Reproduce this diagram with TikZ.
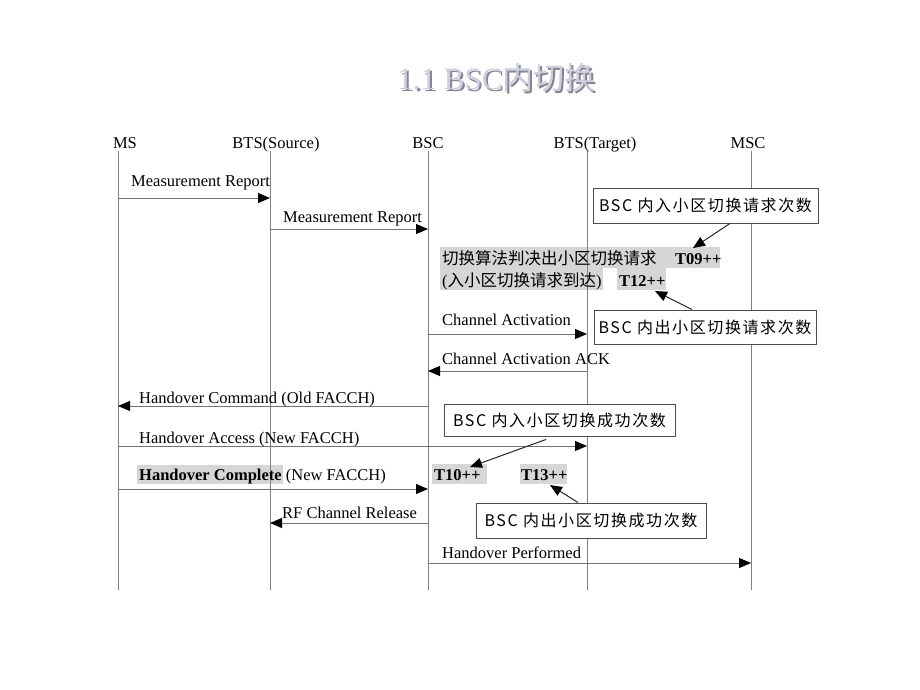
\documentclass[tikz,border=0pt]{standalone}
\usepackage{fontspec}
\setmainfont{Liberation Serif}
\newfontfamily\cjk{Noto Sans CJK SC}
\newfontfamily\cjkbox[LetterSpace=10]{Noto Sans CJK SC}
\usetikzlibrary{arrows.meta}
\definecolor{hlgray}{HTML}{D6D6D6}
\definecolor{titlefill}{HTML}{CCCEE0}
\definecolor{titleshade}{HTML}{85858F}
\begin{document}
\begin{tikzpicture}[x=1pt,y=-1pt,
  lbl/.style={font=\fontsize{16.5}{18}\selectfont,inner sep=0pt,anchor=base west},
  head/.style={font=\fontsize{16.5}{18}\selectfont,inner sep=0pt,anchor=base},
  life/.style={draw=black!50,line width=0.9pt},
  msg/.style={draw=black!55,line width=0.9pt,-{Triangle[length=12pt,width=10pt,color=black]}},
  note/.style={draw=black!70,fill=white,line width=0.9pt,font=\cjkbox\fontsize{16}{18}\selectfont,inner sep=0pt},
  callout/.style={draw=black!85,line width=1pt,-{Triangle[length=12pt,width=10pt,color=black]}},
  hl/.style={fill=hlgray},
  ttl/.style={font=\fontsize{31}{34}\selectfont,inner sep=0pt}
]
\useasboundingbox[fill=white] (0,0) rectangle (920,690);

% title
\node[ttl,text=titleshade] (titleS) at (498.3,79.3) {1.1 BSC{\cjk 内切换}};
\node[ttl,text=titlefill] (title) at (496.5,77.5) {1.1 BSC{\cjk 内切换}};

% highlights
\fill[hl] (440,247) rectangle (720,268);
\fill[hl] (440,268) rectangle (603,290);
\fill[hl] (617,268) rectangle (666,290);
\fill[hl] (432,464) rectangle (487,484);
\fill[hl] (520,464) rectangle (567,484);
\fill[hl] (137,465) rectangle (283,484);

% headers
\node[head] (hMS)  at (125,148) {MS};
\node[head] (hBTSS) at (276,148) {BTS(Source)};
\node[head] (hBSC) at (428,148) {BSC};
\node[head] (hBTST) at (595,148) {BTS(Target)};
\node[head] (hMSC) at (748,148) {MSC};

% lifelines
\foreach \n/\x in {ms/118,btss/270,bsc/428,btst/587,msc/751}{
  \coordinate (\n T) at (\x,151);
  \coordinate (\n B) at (\x,590);
  \draw[life] (\n T) -- (\n B);
}

% message endpoints
\coordinate (m1a) at (118,198); \coordinate (m1b) at (270,198);
\coordinate (m2a) at (270,229); \coordinate (m2b) at (428,229);
\coordinate (m3a) at (428,334); \coordinate (m3b) at (587,334);
\coordinate (m4a) at (587,371); \coordinate (m4b) at (428,371);
\coordinate (m5a) at (428,406); \coordinate (m5b) at (118,406);
\coordinate (m6a) at (118,446); \coordinate (m6b) at (587,446);
\coordinate (m7a) at (118,489); \coordinate (m7b) at (428,489);
\coordinate (m8a) at (428,523); \coordinate (m8b) at (270,523);
\coordinate (m9a) at (428,563); \coordinate (m9b) at (751,563);

\draw[msg] (m1a) -- (m1b);
\draw[msg] (m2a) -- (m2b);
\draw[msg] (m3a) -- (m3b);
\draw[msg] (m4a) -- (m4b);
\draw[msg] (m5a) -- (m5b);
\draw[msg] (m6a) -- (m6b);
\draw[msg] (m7a) -- (m7b);
\draw[msg] (m8a) -- (m8b);
\draw[msg] (m9a) -- (m9b);

% message labels
\node[lbl] (l1) at (131,186) {Measurement Report};
\node[lbl] (l2) at (283,222) {Measurement Report};
\node[lbl] (l3) at (442,325) {Channel Activation};
\node[lbl] (l4) at (442,364) {Channel Activation ACK};
\node[lbl] (l5) at (139,403) {Handover Command (Old FACCH)};
\node[lbl] (l6) at (139,443) {Handover Access (New FACCH)};
\node[lbl] (l7) at (139,480) {\bfseries Handover Complete\mdseries{} (New FACCH)};
\node[lbl] (l8) at (282,518) {RF Channel Release};
\node[lbl] (l9) at (442,558) {Handover Performed};

% decision text and counters
\node[lbl] (dec1) at (442,264) {\cjk 切换算法判决出小区切换请求};
\node[lbl,font=\fontsize{16.5}{18}\selectfont\bfseries] (t09) at (675,264) {T09++};
\node[lbl] (dec2) at (442,286) {({\cjk 入小区切换请求到达})};
\node[lbl,font=\fontsize{16.5}{18}\selectfont\bfseries] (t12) at (619,286) {T12++};
\node[lbl,font=\fontsize{16.5}{18}\selectfont\bfseries] (t10) at (434,480) {T10++};
\node[lbl,font=\fontsize{16.5}{18}\selectfont\bfseries] (t13) at (521,480) {T13++};

% notes
\node[note,minimum width=225pt,minimum height=35pt] (n1) at (705.5,205.5) {BSC 内入小区切换请求次数};
\node[note,minimum width=222pt,minimum height=34pt] (n2) at (705,327) {BSC 内出小区切换请求次数};
\node[note,minimum width=231pt,minimum height=32pt] (n3) at (559.5,420) {BSC 内入小区切换成功次数};
\node[note,minimum width=230pt,minimum height=35pt] (n4) at (591,520.5) {BSC 内出小区切换成功次数};

% callout targets
\coordinate (c1) at (693,248);
\coordinate (c2) at (655,291);
\coordinate (c3) at (470,467);
\coordinate (c4) at (550,485);
\draw[callout] ([xshift=24.5pt]n1.south) -- (c1);
\draw[callout] ([xshift=-13pt]n2.north) -- (c2);
\draw[callout] ([xshift=-13.5pt,yshift=-3pt]n3.south) -- (c3);
\draw[callout] ([xshift=-13pt]n4.north) -- (c4);
\end{tikzpicture}
\end{document}
